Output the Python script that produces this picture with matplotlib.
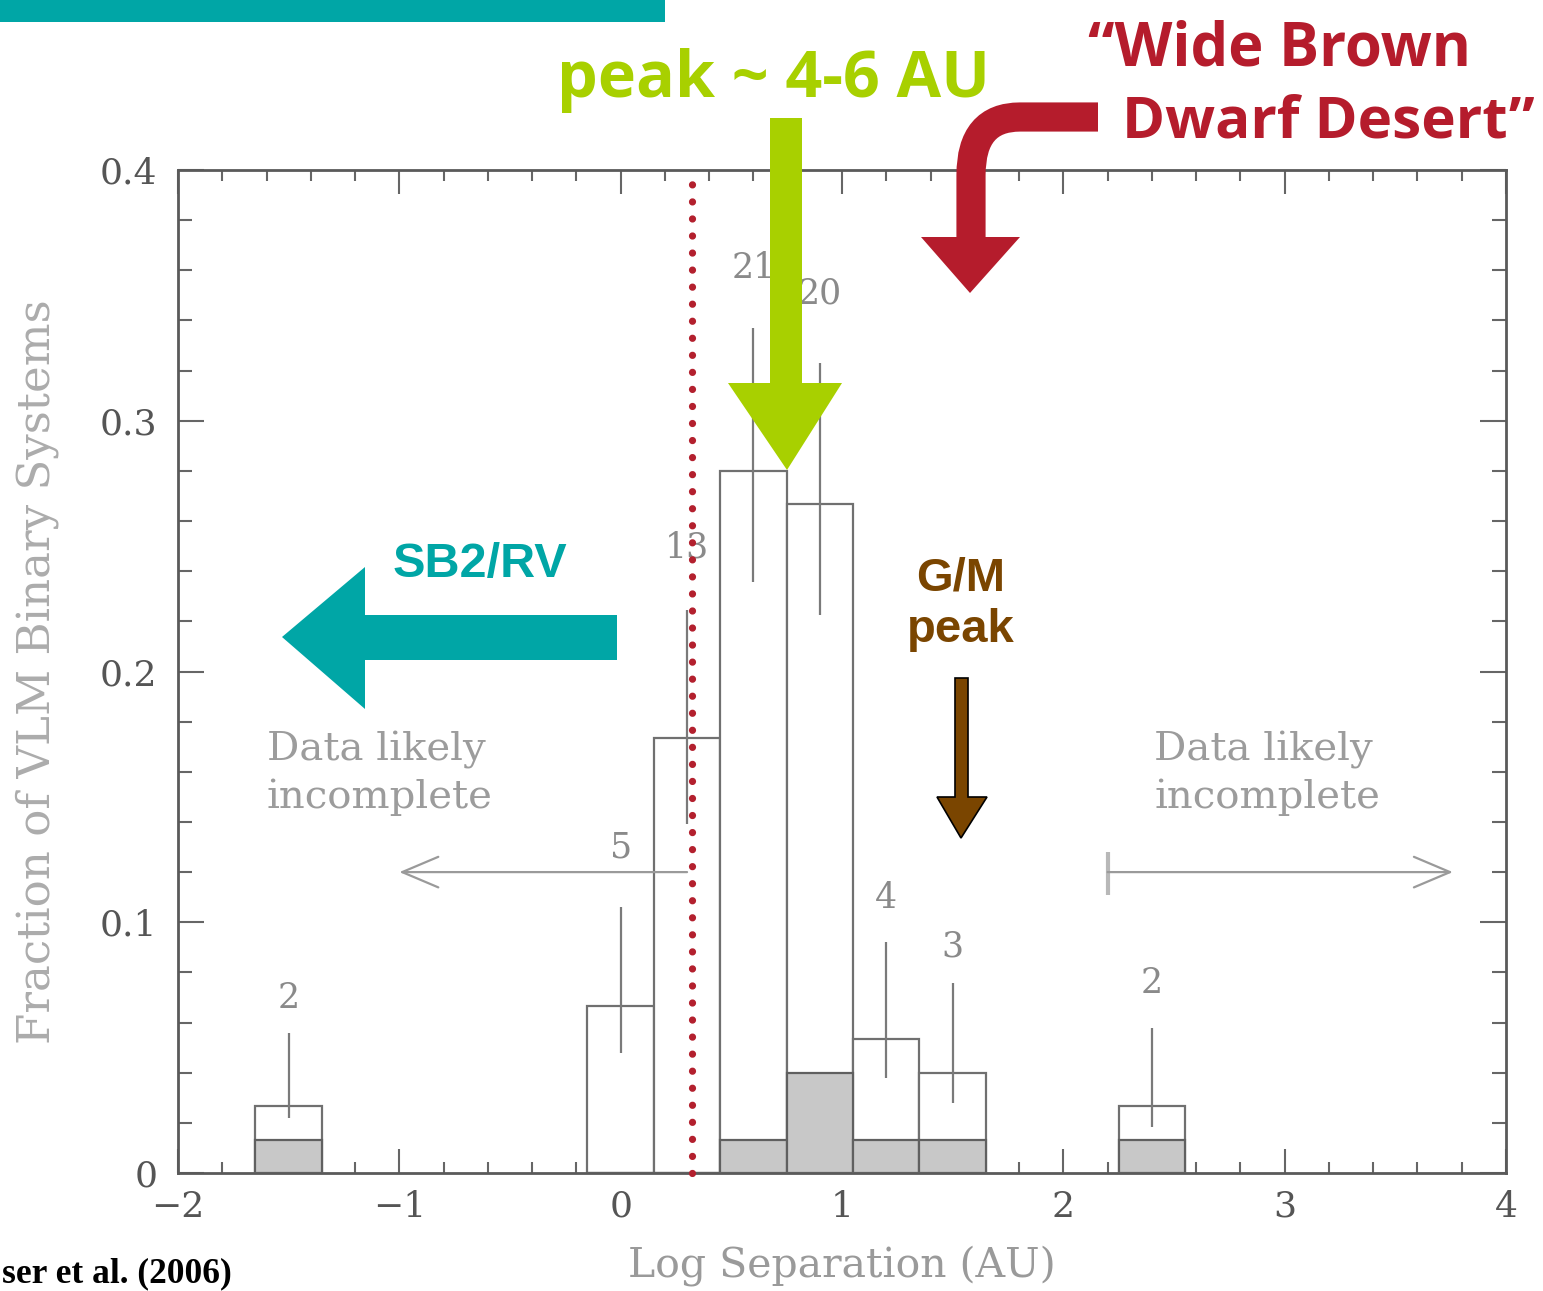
import numpy as np
import matplotlib
matplotlib.use("Agg")
import matplotlib.pyplot as plt
from matplotlib.patches import Polygon, PathPatch, Rectangle
from matplotlib.path import Path

# ---- histogram data: very-low-mass binary separations ----
bin_centers = np.array([-1.5, 0.0, 0.3, 0.6, 0.9, 1.2, 1.5, 2.4])
counts = np.array([2, 5, 13, 21, 20, 4, 3, 2])
subset_counts = np.array([1, 0, 0, 1, 3, 1, 1, 1])
n_total = 75
err_upper = np.array([0.056, 0.106, 0.2246, 0.337, 0.323, 0.092, 0.0757, 0.058])
err_lower = np.array([0.022, 0.048, 0.139, 0.2355, 0.2226, 0.038, 0.028, 0.0185])
bin_width = 0.3

fraction = counts / n_total
subset_fraction = subset_counts / n_total

x_ticks = [-2, -1, 0, 1, 2, 3, 4]
x_tick_labels = ["\u22122", "\u22121", "0", "1", "2", "3", "4"]
y_ticks = [0, 0.1, 0.2, 0.3, 0.4]
y_tick_labels = ["0", "0.1", "0.2", "0.3", "0.4"]

W, H = 1543, 1291
fig = plt.figure(figsize=(W / 100, H / 100), dpi=100)
fig.patch.set_facecolor("white")


def fpos(x, y):
    """Pixel position (from top-left) to figure fraction."""
    return (x / W, 1 - y / H)


ax = fig.add_axes([178 / W, 1 - 1173 / H, (1506 - 178) / W, (1173 - 170) / H])
ax.set_xlim(-2, 4)
ax.set_ylim(0, 0.4)

serif = "DejaVu Serif"
axis_grey = "#5a5a5a"

# bars: full sample (white) and subset (grey)
ax.bar(bin_centers, fraction, width=bin_width, color="white",
       edgecolor="#707070", linewidth=1.6, zorder=2)
ax.bar(bin_centers, subset_fraction, width=bin_width, color="#c8c8c8",
       edgecolor="#606060", linewidth=1.6, zorder=3)

# uncertainty ranges
ax.vlines(bin_centers, err_lower, err_upper, color="#7a7a7a", linewidth=1.6, zorder=4)

# counts above each bin, lifted a little above the upper uncertainty
label_gap = [0.007, 0.017, 0.018, 0.017, 0.021, 0.011, 0.008, 0.011]
for xc, up, gap, n in zip(bin_centers, err_upper, label_gap, counts):
    ax.text(xc, up + gap, str(n), ha="center", va="bottom",
            fontsize=25, family=serif, color="#8a8a8a", zorder=5)

# completeness limits
limit_grey = "#9a9a9a"
ax.annotate("", xy=(-1.0, 0.12), xytext=(0.3, 0.12),
            arrowprops=dict(arrowstyle="->,head_length=1.3,head_width=0.55",
                            color=limit_grey, lw=1.6, mutation_scale=20,
                            shrinkA=0, shrinkB=0))
ax.annotate("", xy=(3.76, 0.12), xytext=(2.2, 0.12),
            arrowprops=dict(arrowstyle="->,head_length=1.3,head_width=0.55",
                            color=limit_grey, lw=1.6, mutation_scale=20,
                            shrinkA=0, shrinkB=0))
ax.plot([2.2, 2.2], [0.111, 0.128], color="#b8b8b8", lw=3, solid_capstyle="butt")
for x_left in (-1.6, 2.41):
    ax.text(x_left, 0.1425, "Data likely\nincomplete", ha="left", va="bottom",
            fontsize=29, family=serif, color="#9c9c9c", linespacing=1.32)

# dotted boundary
ax.plot([0.322, 0.322], [0, 0.4], color="#b3202e", lw=5.2,
        linestyle=(0, (0.01, 2.35)), dash_capstyle="round", zorder=10, clip_on=False)

# axes styling
for s in ax.spines.values():
    s.set_color(axis_grey)
    s.set_linewidth(2)
ax.set_xticks(x_ticks)
ax.set_xticklabels(x_tick_labels)
ax.set_yticks(y_ticks)
ax.set_yticklabels(y_tick_labels)
ax.set_xticks(np.arange(-2, 4.01, 0.2), minor=True)
ax.set_yticks(np.arange(0, 0.401, 0.02), minor=True)
ax.tick_params(axis="both", which="both", direction="in", top=True, right=True,
               colors="#666666", width=1.5)
ax.tick_params(axis="x", which="major", length=17, pad=12)
ax.tick_params(axis="x", which="minor", length=8)
ax.tick_params(axis="y", which="major", length=19, pad=15)
ax.tick_params(axis="y", which="minor", length=10)
for lab in ax.get_xticklabels() + ax.get_yticklabels():
    lab.set_family(serif)
    lab.set_fontsize(26)
    lab.set_color("#555555")

ax.set_xlabel("Log Separation (AU)", family=serif, fontsize=29.5, color="#9a9a9a", va="center")
ax.xaxis.set_label_coords(0.5, -0.092)
ax.set_ylabel("Fraction of VLM Binary Systems", family=serif, fontsize=32.5,
              color="#acacac", va="center")
ax.yaxis.set_label_coords(-0.106, 0.5)

# ---- overlay annotations ----
teal = "#00a6a6"
lime = "#a8d000"
crimson = "#b51c2c"
brown = "#7a4500"

fig.add_artist(Rectangle(fpos(0, 22), 665 / W, 22 / H, transform=fig.transFigure,
                         facecolor=teal, edgecolor="none"))

green_arrow = [(770, 118), (802, 118), (802, 383), (842, 383), (787, 470), (728, 383), (770, 383)]
fig.add_artist(Polygon([fpos(*p) for p in green_arrow], closed=True, transform=fig.transFigure,
                       facecolor=lime, edgecolor="none", zorder=20))

teal_arrow = [(617, 615), (617, 660), (365, 660), (365, 709), (282, 637), (365, 567), (365, 615)]
fig.add_artist(Polygon([fpos(*p) for p in teal_arrow], closed=True, transform=fig.transFigure,
                       facecolor=teal, edgecolor="none", zorder=20))

brown_arrow = [(955, 678), (968, 678), (968, 797), (987, 797), (961, 838), (937, 797), (955, 797)]
fig.add_artist(Polygon([fpos(*p) for p in brown_arrow], closed=True, transform=fig.transFigure,
                       facecolor=brown, edgecolor="black", linewidth=1.2, zorder=20))

curve_pts = [(1098, 117), (1020, 117), (971, 117), (971, 175), (971, 240)]
curve_codes = [Path.MOVETO, Path.LINETO, Path.CURVE3, Path.CURVE3, Path.LINETO]
curve = Path([fpos(*p) for p in curve_pts], curve_codes)
fig.add_artist(PathPatch(curve, transform=fig.transFigure, facecolor="none",
                         edgecolor=crimson, linewidth=21, capstyle="butt", zorder=20))
red_head = [(921, 237), (1020, 237), (970, 293)]
fig.add_artist(Polygon([fpos(*p) for p in red_head], closed=True, transform=fig.transFigure,
                       facecolor=crimson, edgecolor="none", zorder=20))

fig.text(*fpos(557, 97), "peak ~ 4-6 AU", ha="left", va="baseline", fontsize=46.5,
         family="Open Sans", weight="bold", color=lime, zorder=21)
fig.text(*fpos(1088, 65), "\u201cWide Brown", ha="left", va="baseline", fontsize=43,
         family="Open Sans", weight="bold", color=crimson, zorder=21)
fig.text(*fpos(1122, 138), "Dwarf Desert\u201d", ha="left", va="baseline", fontsize=42,
         family="Open Sans", weight="bold", color=crimson, zorder=21)
fig.text(*fpos(393, 577), "SB2/RV", ha="left", va="baseline", fontsize=35,
         family="Liberation Sans", weight="bold", color=teal, zorder=21)
fig.text(*fpos(961, 590), "G/M", ha="center", va="baseline", fontsize=34,
         family="Liberation Sans", weight="bold", color=brown, zorder=21)
fig.text(*fpos(961, 642), "peak", ha="center", va="baseline", fontsize=34,
         family="Liberation Sans", weight="bold", color=brown, zorder=21)
fig.text(*fpos(2, 1282), "ser et al. (2006)", ha="left", va="baseline",
         fontsize=25.5, family="Liberation Serif", weight="bold", color="black", zorder=21)

fig.savefig("out.png", dpi=100, facecolor="white")
